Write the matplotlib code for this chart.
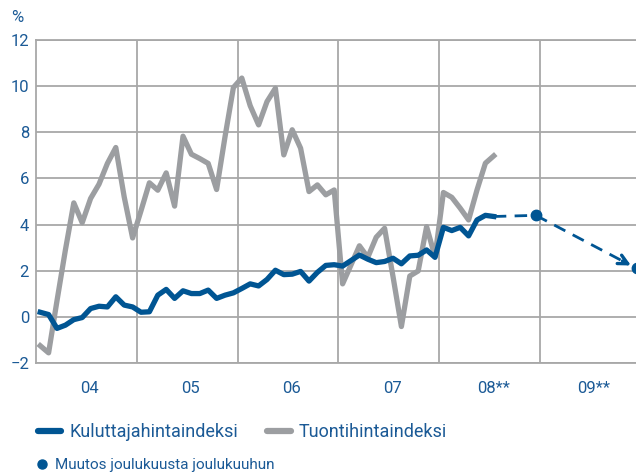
import matplotlib
matplotlib.use('Agg')
import matplotlib.pyplot as plt
import matplotlib.transforms as mtransforms
from matplotlib.lines import Line2D
import numpy as np

plt.rcParams['font.family'] = ['Roboto', 'DejaVu Sans']

# ---- data (monthly, Jan 2004 onwards) ----
year_labels = ['04', '05', '06', '07', '08**', '09**']
cpi = [0.2, 0.1, -0.5, -0.36, -0.12, -0.03, 0.36, 0.46, 0.43, 0.87, 0.51, 0.43,
       0.2, 0.22, 0.94, 1.19, 0.8, 1.13, 1.01, 1.01, 1.16, 0.8, 0.94, 1.04,
       1.23, 1.43, 1.34, 1.62, 2.02, 1.83, 1.85, 1.97, 1.55, 1.93, 2.23, 2.26,
       2.2, 2.44, 2.68, 2.5, 2.35, 2.4, 2.54, 2.3, 2.64, 2.67, 2.9, 2.58,
       3.88, 3.74, 3.88, 3.51, 4.2, 4.4, 4.35]
imp = [-1.25, -1.56, 0.7, 2.9, 4.94, 4.08, 5.13, 5.75, 6.65, 7.34, 5.2, 3.42,
       4.6, 5.81, 5.49, 6.24, 4.8, 7.83, 7.05, 6.86, 6.65, 5.52, 7.8, 9.94,
       10.35, 9.15, 8.32, 9.33, 9.91, 7.02, 8.11, 7.31, 5.43, 5.72, 5.29, 5.5,
       1.43, 2.25, 3.08, 2.58, 3.45, 3.84, 1.75, -0.42, 1.77, 1.99, 3.91, 2.61,
       5.39, 5.18, 4.71, 4.2, 5.5, 6.66, 6.98]
forecast_month = [59, 71]      # Dec 2008, Dec 2009 (months from Jan 2004)
forecast_value = [4.4, 2.1]    # change Dec -> Dec

BLUE = '#005593'
GRAY = '#9C9EA1'
GRID = '#A8A8A8'
TEXT = '#1B5A96'

fig = plt.figure(figsize=(6.36, 4.74), dpi=100)
ax = fig.add_axes([36 / 636, 111 / 474, 600 / 636, 323 / 474])

x = np.arange(len(cpi)) + 0.5
ax.plot(x, imp, color=GRAY, lw=3.8, zorder=3)
ax.plot(x, cpi, color=BLUE, lw=3.8, zorder=4)

fx = np.array(forecast_month) + 0.5
fv = np.array(forecast_value)
dash = (0, (4.5, 3))
ax.plot([x[-1], fx[0]], [cpi[-1], fv[0]], color=BLUE, lw=2.0, linestyle=dash,
        zorder=4)
ax.plot(fx, fv, 'o', ms=7.5, color=BLUE, clip_on=False, zorder=5)
# dashed arrow between forecast points
t = 0.86
mx, my = fx[0] + t * (fx[1] - fx[0]), fv[0] + t * (fv[1] - fv[0])
ax.plot([fx[0], mx], [fv[0], my], color=BLUE, lw=2.0, linestyle=dash, zorder=4)
ax.annotate('', xy=(fx[1], fv[1]), xytext=(mx, my),
            arrowprops=dict(arrowstyle='->', color=BLUE, lw=2.4,
                            shrinkA=0, shrinkB=4.5, mutation_scale=17),
            annotation_clip=False, zorder=5)

ax.set_xlim(0, 600 / 8.4)
ax.set_ylim(-2, 12)
ax.set_yticks(range(-2, 13, 2))
ax.set_xticks([12, 24, 36, 48, 60])
ax.set_xticklabels([])
ax.set_xticks([6, 18, 30, 42, 54, 66], minor=True)
ax.set_xticklabels(year_labels, minor=True)
ax.tick_params(which='both', length=0)
ax.tick_params(axis='y', labelsize=12, labelcolor=TEXT, pad=5)
ax.tick_params(axis='x', which='minor', labelsize=12, labelcolor=TEXT, pad=13)
off = mtransforms.ScaledTranslation(3.5 / 100, 0, fig.dpi_scale_trans)
for lab in ax.get_xticklabels(minor=True):
    lab.set_transform(lab.get_transform() + off)

ax.grid(True, which='major', color=GRID, lw=1.3, zorder=0)
for side in ['left', 'bottom', 'top']:
    ax.spines[side].set_color(GRID)
    ax.spines[side].set_linewidth(1.3)
ax.spines['right'].set_visible(False)

fig.text(17 / 636, 1 - 17 / 474, '%', ha='center', va='center', fontsize=12,
         color=TEXT)

h1 = [Line2D([], [], color=BLUE, lw=4.5, solid_capstyle='round'),
      Line2D([], [], color=GRAY, lw=4.5, solid_capstyle='round')]
leg1 = fig.legend(h1, ['Kuluttajahintaindeksi', 'Tuontihintaindeksi'],
                  loc='center left', bbox_to_anchor=(38 / 636, 1 - 432 / 474),
                  ncol=2, frameon=False, fontsize=13, handlelength=1.3,
                  handletextpad=0.45, columnspacing=1.6, borderpad=0,
                  borderaxespad=0, labelcolor=TEXT)
h2 = [Line2D([], [], color=BLUE, marker='o', ms=6.5, lw=0)]
leg2 = fig.legend(h2, ['Muutos joulukuusta joulukuuhun'],
                  loc='center left', bbox_to_anchor=(36 / 636, 1 - 465 / 474),
                  frameon=False, fontsize=11, handlelength=0.8,
                  handletextpad=0.45, borderpad=0, borderaxespad=0,
                  labelcolor=TEXT)

fig.savefig('out.png', dpi=100)
